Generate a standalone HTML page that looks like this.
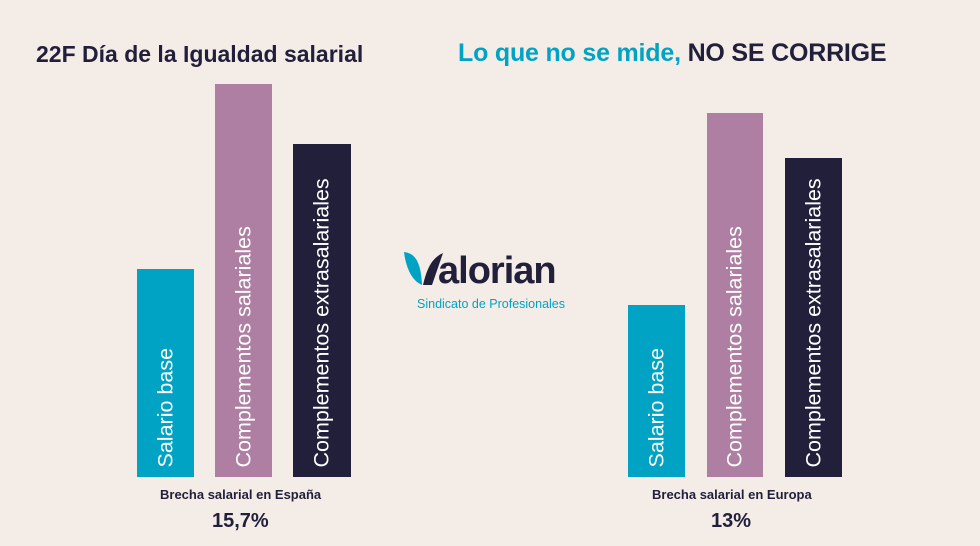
<!DOCTYPE html>
<html><head><meta charset="utf-8"><style>
body{margin:0;width:980px;height:546px;background:#f4ece7;position:relative;overflow:hidden;font-family:"Liberation Sans",sans-serif;color:#211f3a}
.b{position:absolute;bottom:69px}
.t{position:absolute;left:50%;bottom:10px;transform-origin:0 100%;transform:rotate(-90deg) translate(0,50%);white-space:nowrap;color:#fff;font-size:21.5px;line-height:1}
.c{background:#00a3c4}.p{background:#ae7fa2}.n{background:#211f3a}
.a{position:absolute;font-weight:bold;white-space:nowrap}
</style></head><body>
<div class="a" style="left:36px;top:41px;font-size:23px">22F Día de la Igualdad salarial</div>
<div class="a" style="left:458px;top:39px;font-size:25px;letter-spacing:-0.2px"><span style="color:#00a3c4">Lo que no se mide,</span> NO SE CORRIGE</div>

<div class="b c" style="left:137px;width:57px;height:208px"><span class="t">Salario base</span></div>
<div class="b p" style="left:215px;width:57px;height:393px"><span class="t">Complementos salariales</span></div>
<div class="b n" style="left:293px;width:58px;height:333px"><span class="t">Complementos extrasalariales</span></div>

<div class="b c" style="left:628px;width:57px;height:172px"><span class="t">Salario base</span></div>
<div class="b p" style="left:707px;width:56px;height:364px"><span class="t">Complementos salariales</span></div>
<div class="b n" style="left:785px;width:57px;height:319px"><span class="t">Complementos extrasalariales</span></div>

<div class="a" style="left:160px;top:487px;font-size:13px">Brecha salarial en España</div>
<div class="a" style="left:212px;top:510px;font-size:20px">15,7%</div>
<div class="a" style="left:652px;top:487px;font-size:13px">Brecha salarial en Europa</div>
<div class="a" style="left:711px;top:510px;font-size:20px">13%</div>

<svg style="position:absolute;left:404px;top:252px" width="40" height="34" viewBox="0 0 40 34">
<path d="M0 0 C11 1 17 10 18 33 C8 29 2 16 0 0Z" fill="#00a3c4"/>
<path d="M19 33 C23 16 28 6 39 1 L28 33Z" fill="#211f3a"/>
</svg>
<div class="a" style="left:438px;top:250px;font-size:38px;letter-spacing:-1px;line-height:42px">alorian</div>
<div style="position:absolute;left:417px;top:297px;font-size:12.5px;color:#00a3c4;white-space:nowrap">Sindicato de Profesionales</div>
</body></html>
